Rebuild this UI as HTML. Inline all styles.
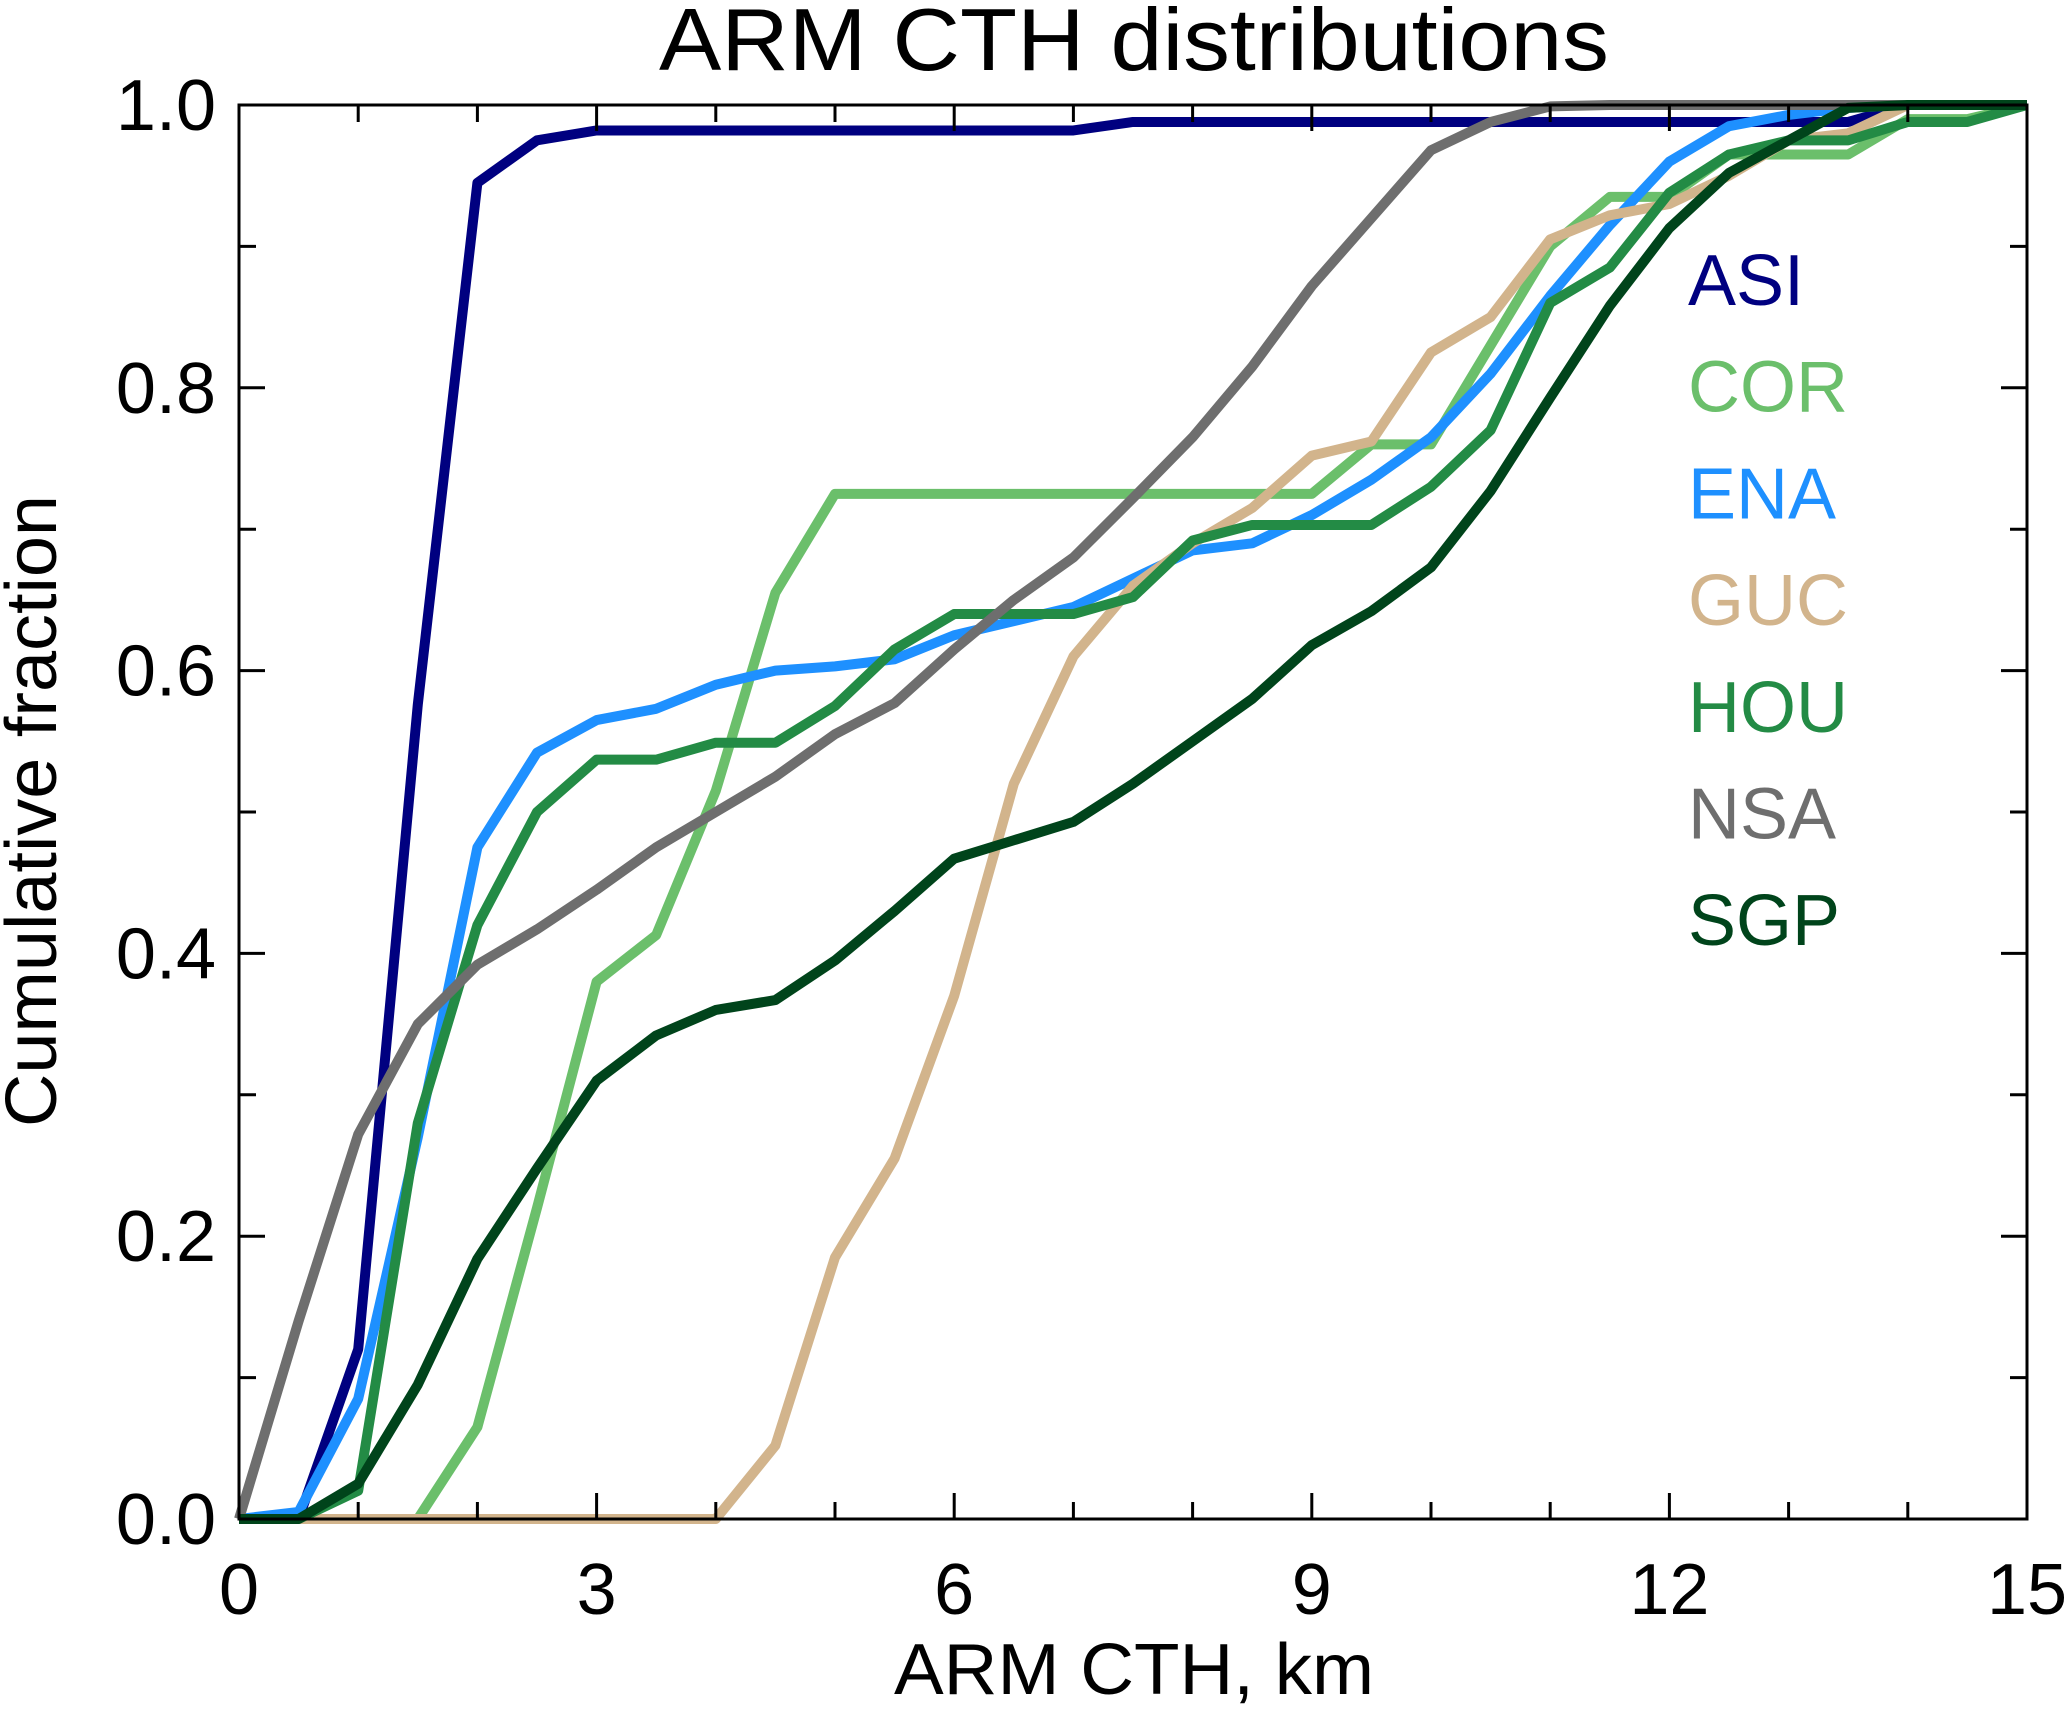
<!DOCTYPE html>
<html><head><meta charset="utf-8"><style>
body{margin:0;background:#fff}
svg text{font-family:"Liberation Sans",sans-serif;fill:#000}
</style></head><body>
<svg id="chart" width="2067" height="1706" xmlns="http://www.w3.org/2000/svg">
<text x="1134" y="70" font-size="88" text-anchor="middle" textLength="950" lengthAdjust="spacingAndGlyphs">ARM CTH distributions</text>
<g id="lines"></g>
<g id="axes"></g>
<text x="1134" y="1694" font-size="72" text-anchor="middle" textLength="480" lengthAdjust="spacingAndGlyphs">ARM CTH, km</text>
<text transform="translate(56,811) rotate(-90)" font-size="72" text-anchor="middle" textLength="632" lengthAdjust="spacingAndGlyphs">Cumulative fraction</text>
<g id="legend"></g>
</svg>
<script>
const xs = [0,0.5,1,1.5,2,2.5,3,3.5,4,4.5,5,5.5,6,6.5,7,7.5,8,8.5,9,9.5,10,10.5,11,11.5,12,12.5,13,13.5,14,14.5,15];
const names = ["ASI","COR","ENA","GUC","HOU","NSA","SGP"];
const colors = ["#000080","#6bbf6b","#1e90ff","#d2b48c","#238b45","#6e6e6e","#00441b"];
const asi = [0,0,0.12,0.576,0.945,0.975,0.982,0.982,0.982,0.982,0.982,0.982,0.982,0.982,0.982,0.988,0.988,0.988,0.988,0.988,0.988,0.988,0.988,0.988,0.988,0.988,0.988,0.988,1,1,1];
const cor = [0,0,0,0,0.065,0.22,0.38,0.413,0.515,0.655,0.725,0.725,0.725,0.725,0.725,0.725,0.725,0.725,0.725,0.76,0.76,0.83,0.9,0.935,0.935,0.965,0.965,0.965,0.99,0.99,1];
const ena = [0,0.005,0.085,0.27,0.475,0.542,0.565,0.573,0.59,0.6,0.603,0.608,0.625,0.635,0.645,0.665,0.685,0.69,0.71,0.735,0.765,0.81,0.865,0.915,0.96,0.985,0.993,0.998,1,1,1];
const guc = [0,0,0,0,0,0,0,0,0,0.052,0.185,0.255,0.37,0.52,0.61,0.66,0.69,0.715,0.752,0.762,0.825,0.85,0.905,0.922,0.93,0.95,0.975,0.98,1,1,1];
const hou = [0,0,0.02,0.28,0.42,0.5,0.537,0.537,0.549,0.549,0.575,0.615,0.64,0.64,0.64,0.652,0.692,0.703,0.703,0.703,0.73,0.77,0.86,0.885,0.938,0.965,0.975,0.975,0.988,0.988,1];
const nsa = [0,0.14,0.272,0.35,0.392,0.417,0.445,0.475,0.5,0.525,0.555,0.577,0.615,0.65,0.68,0.722,0.765,0.815,0.872,0.92,0.968,0.988,0.999,1,1,1,1,1,1,1,1];
const sgp = [0,0,0.025,0.095,0.184,0.248,0.31,0.342,0.36,0.367,0.395,0.43,0.467,0.48,0.493,0.52,0.55,0.58,0.618,0.642,0.673,0.727,0.793,0.858,0.913,0.952,0.975,0.998,1,1,1];
const series = [asi,cor,ena,guc,hou,nsa,sgp];
const xTicks = [0,3,6,9,12,15];
const yTicks = ["0.0","0.2","0.4","0.6","0.8","1.0"];

const L=239,R=2027,T=105,B=1519;
const sx=v=>L+(v/15)*(R-L), sy=v=>B-v*(B-T);
const NS="http://www.w3.org/2000/svg";
function mk(tag,attrs,parent){const e=document.createElementNS(NS,tag);for(const k in attrs)e.setAttribute(k,attrs[k]);parent.appendChild(e);return e;}
const lines=document.getElementById('lines'), axes=document.getElementById('axes'), legend=document.getElementById('legend');
series.forEach((s,i)=>{
  const p=mk('polyline',{points:s.map((v,j)=>sx(xs[j])+','+sy(v)).join(' '),fill:'none',stroke:colors[i],'stroke-width':10,'stroke-linejoin':'round'},lines);
  
  
  const t=mk('text',{x:1688,y:305+i*106.7,'font-size':72},legend);
  t.style.fill=colors[i];
  t.textContent=names[i];
  
  
});
const box=mk('rect',{x:L,y:T,width:R-L,height:B-T,fill:'none',stroke:'#000','stroke-width':3},axes);


for(let k=0;k<=15;k++){
  const len=k%3===0?26:17, x=sx(k);
  mk('line',{x1:x,x2:x,y1:B,y2:B-len,stroke:'#000','stroke-width':3},axes);
  mk('line',{x1:x,x2:x,y1:T,y2:T+len,stroke:'#000','stroke-width':3},axes);
}
for(let k=0;k<=10;k++){
  const len=k%2===0?26:17, y=sy(k/10);
  mk('line',{x1:L,x2:L+len,y1:y,y2:y,stroke:'#000','stroke-width':3},axes);
  mk('line',{x1:R,x2:R-len,y1:y,y2:y,stroke:'#000','stroke-width':3},axes);
}
xTicks.forEach(v=>{
  const t=mk('text',{x:sx(v),y:1614,'font-size':72,'text-anchor':'middle'},axes);
  t.textContent=v;
  
  
});
yTicks.forEach(v=>{
  const t=mk('text',{x:216,y:sy(parseFloat(v))+25,'font-size':72,'text-anchor':'end'},axes);
  t.textContent=v;
  
  
});
</script>
</body></html>
